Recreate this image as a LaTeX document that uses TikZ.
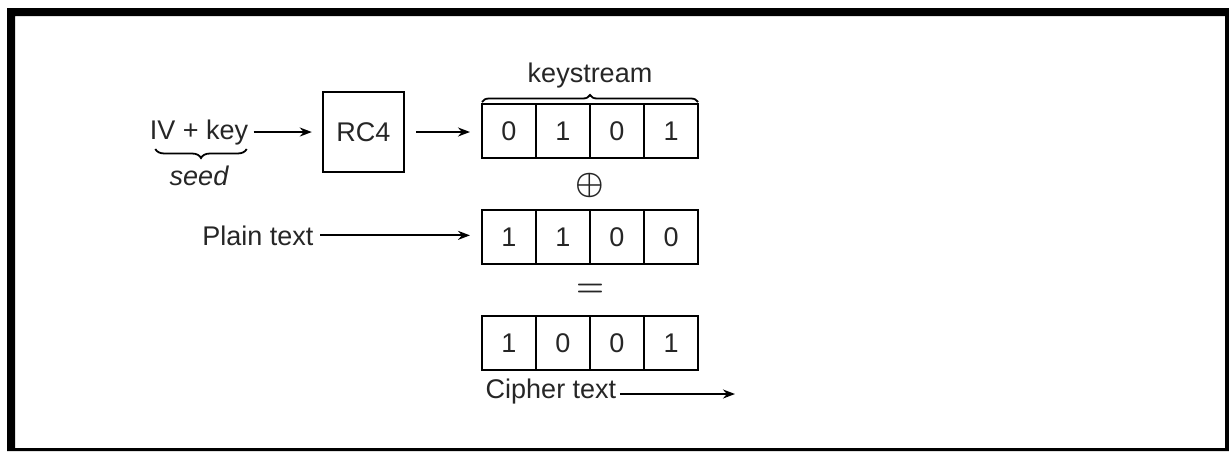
\RequirePackage{fix-cm}
\documentclass[tikz,border=0pt]{standalone}
\usepackage{fontspec}
\setmainfont{Liberation Sans}
\usetikzlibrary{arrows.meta,positioning,calc,decorations.pathreplacing}

\begin{document}
\begin{tikzpicture}[
    x=1pt, y=-1pt,
    every node/.style={font=\fontsize{27}{32}\selectfont, text=black!85},
    cell/.style={rectangle, draw, line width=2.4pt, minimum width=54pt, minimum height=54pt, inner sep=0pt, outer sep=0pt},
    block/.style={rectangle, draw, line width=2.4pt, minimum width=81pt, minimum height=80pt},
    txt/.style={anchor=base},
    op/.style={font=\fontsize{32}{36}\selectfont\boldmath},
    arrow/.style={-{Stealth[length=12pt,width=9pt]}, line width=1.8pt},
    curly/.style={decorate, decoration={brace, amplitude=#1}, line width=1.8pt}
]
    \useasboundingbox (0,0) rectangle (1229,451);

    % Frame
    \fill[even odd rule] (7,8) rectangle (1229,451) (15,16) rectangle (1225,448);

    % Seed
    \node[txt] (iv) at (199,139) {IV + key};
    \node[txt] (seed) at (199,185) {\itshape seed};
    \draw[curly=9pt] ([xshift=-5pt,yshift=-10pt]iv.base east) -- ([xshift=9pt,yshift=-10pt]iv.base west);

    % RC4
    \node[block] (rc4) at (363.5,132) {RC4};
    \draw[arrow, shorten <=2pt, shorten >=10pt] (iv.east) -- (iv.east -| rc4.west);

    % Keystream
    \node[cell] (k1) at (509,131) {0};
    \node[cell, right=0pt of k1] (k2) {1};
    \node[cell, right=0pt of k2] (k3) {0};
    \node[cell, right=0pt of k3] (k4) {1};
    \draw[arrow, shorten <=11pt, shorten >=12pt] (rc4.east) -- (rc4.east -| k1.west);
    \draw[curly=7pt] ([yshift=2pt]k1.north west) -- ([yshift=2pt]k4.north east);
    \node[txt] (keystream) at (590,82) {keystream};

    % XOR
    \node[op] (xor) at (590,185) {$\oplus$};

    % Plain text
    \node[cell] (p1) at (509,237) {1};
    \node[cell, right=0pt of p1] (p2) {1};
    \node[cell, right=0pt of p2] (p3) {0};
    \node[cell, right=0pt of p3] (p4) {0};
    \node[txt] (plain) at (258,245) {Plain text};
    \draw[arrow, shorten <=3pt, shorten >=12pt] (plain.east) -- (plain.east -| p1.west);

    % Equals
    \node[op] (eq) at (590,290) {$=$};

    % Cipher text
    \node[cell] (c1) at (509,343) {1};
    \node[cell, right=0pt of c1] (c2) {0};
    \node[cell, right=0pt of c2] (c3) {0};
    \node[cell, right=0pt of c3] (c4) {1};
    \node[txt] (cipher) at (551,398) {Cipher text};
    \coordinate (out) at (735,394);
    \draw[arrow] (out -| cipher.east) -- (out);
\end{tikzpicture}
\end{document}
